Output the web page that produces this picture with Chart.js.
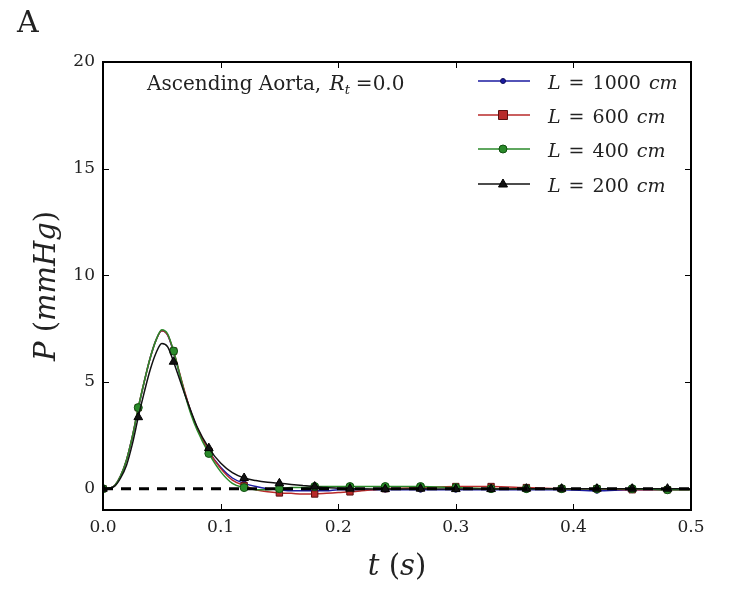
<!DOCTYPE html>
<html><head><meta charset="utf-8">
<script src="https://cdn.jsdelivr.net/npm/chart.js@4/dist/chart.umd.min.js"></script>
<style>html,body{margin:0;padding:0;background:#fff}#wrap{width:734px;height:592px}</style>
</head><body><div id="wrap"><canvas id="c" width="734" height="592"></canvas></div>
<script>
const times = [0,0.005,0.01,0.015,0.02,0.025,0.03,0.035,0.04,0.045,0.05,0.055,0.06,0.065,0.07,0.075,0.08,0.09,0.1,0.11,0.12,0.13,0.14,0.15,0.16,0.17,0.18,0.19,0.2,0.21,0.22,0.24,0.27,0.3,0.33,0.36,0.39,0.42,0.45,0.48,0.5];
const P_L1000 = [0,0.02,0.15,0.6,1.35,2.45,3.75,5.0,6.1,6.95,7.4,7.2,6.4,5.4,4.4,3.55,2.85,1.75,1.0,0.5,0.25,0.1,0.0,-0.05,-0.1,-0.1,-0.1,-0.1,-0.05,-0.05,-0.05,-0.05,-0.05,-0.05,-0.05,-0.05,-0.05,-0.1,-0.05,-0.05,-0.05];
const P_L600 = [0,0.02,0.15,0.6,1.35,2.45,3.8,5.0,6.1,6.95,7.4,7.2,6.45,5.45,4.45,3.55,2.85,1.75,0.95,0.4,0.15,-0.05,-0.15,-0.2,-0.22,-0.25,-0.25,-0.22,-0.18,-0.15,-0.1,0.0,0.05,0.1,0.1,0.05,0.0,0.0,-0.05,-0.05,-0.05];
const P_L400 = [0,0.02,0.15,0.6,1.35,2.45,3.8,5.0,6.1,6.95,7.45,7.25,6.45,5.4,4.35,3.45,2.75,1.65,0.8,0.25,0.05,-0.05,-0.05,0.0,0.05,0.05,0.1,0.1,0.1,0.1,0.1,0.1,0.1,0.05,0.0,0.0,0.0,0.0,0.0,-0.05,-0.05];
const P_L200 = [0,0.02,0.12,0.5,1.1,2.1,3.35,4.5,5.55,6.35,6.8,6.65,5.95,5.15,4.35,3.6,2.9,1.9,1.2,0.75,0.5,0.38,0.3,0.25,0.2,0.15,0.1,0.05,0.02,0.0,0.0,-0.02,0.0,-0.02,-0.02,0.0,0.0,0.0,0.0,0.0,0.0];
const markerTimes = [0,0.03,0.06,0.09,0.12,0.15,0.18,0.21,0.24,0.27,0.3,0.33,0.36,0.39,0.42,0.45,0.48];
const seriesLabels = ['L = 1000 cm','L = 600 cm','L = 400 cm','L = 200 cm'];
const legendNumbers = ['1000','600','400','200'];
const xTickValues = [0,0.1,0.2,0.3,0.4,0.5];
const xTickLabels = ['0.0','0.1','0.2','0.3','0.4','0.5'];
const yTickValues = [0,5,10,15,20];
const yTickLabels = ['0','5','10','15','20'];
const refLine = [0,0];
const refTimes = [0,0.5];

const SERIF = '"DejaVu Serif", "Liberation Serif", serif';
const TXT = '#222';
const styles = [
  {color:'#1a1aa0', edge:'#10105a', style:'circle', r:2.5},
  {color:'#b82a2a', edge:'#5a1010', style:'rect', r:4.5},
  {color:'#2a8a2a', edge:'#105010', style:'circle', r:4},
  {color:'#111111', edge:'#000000', style:'triangle', r:5}
];
const seriesData = [P_L1000, P_L600, P_L400, P_L200];

function isMarker(t){ return markerTimes.some(m => Math.abs(m - t) < 1e-9); }

const datasets = seriesData.map((vals, i) => ({
  label: seriesLabels[i],
  data: times.map((t, j) => ({x: t, y: vals[j]})),
  borderColor: styles[i].color,
  backgroundColor: styles[i].color,
  pointBorderColor: styles[i].edge,
  pointBackgroundColor: styles[i].color,
  pointStyle: styles[i].style,
  pointRadius: ctx => isMarker(times[ctx.dataIndex]) ? styles[i].r : 0,
  pointBorderWidth: 1,
  borderWidth: 1.5,
  cubicInterpolationMode: 'monotone',
  order: 4 - i + 1
}));
datasets.push({
  label: 'zero',
  data: refTimes.map((t, j) => ({x: t, y: refLine[j]})),
  borderColor: '#000',
  borderWidth: 3,
  borderDash: [10, 8],
  pointRadius: 0,
  order: 0
});

function drawParts(ctx, parts, x, y, size) {
  parts.forEach(p => {
    ctx.font = (p[1] ? 'italic ' : '') + size + 'px ' + SERIF;
    ctx.fillText(p[0], x, y);
    x += ctx.measureText(p[0]).width + (p[2] || 0);
  });
  return x;
}
function partsWidth(ctx, parts, size) {
  let w = 0;
  parts.forEach(p => { ctx.font = (p[1] ? 'italic ' : '') + size + 'px ' + SERIF; w += ctx.measureText(p[0]).width + (p[2] || 0); });
  return w;
}

const decor = {
  id: 'decor',
  afterDraw(chart) {
    const ctx = chart.ctx;
    const a = chart.chartArea;
    const xs = chart.scales.x, ys = chart.scales.y;
    ctx.save();
    ctx.strokeStyle = '#000';
    ctx.lineWidth = 2;
    ctx.strokeRect(a.left, a.top, a.right - a.left, a.bottom - a.top);
    ctx.lineWidth = 1;
    const L = 6;
    xTickValues.forEach(v => {
      const px = Math.round(xs.getPixelForValue(v)) + 0.5;
      ctx.beginPath();
      ctx.moveTo(px, a.bottom); ctx.lineTo(px, a.bottom - L);
      ctx.moveTo(px, a.top); ctx.lineTo(px, a.top + L);
      ctx.stroke();
    });
    yTickValues.forEach(v => {
      const py = Math.round(ys.getPixelForValue(v)) + 0.5;
      ctx.beginPath();
      ctx.moveTo(a.left, py); ctx.lineTo(a.left + L, py);
      ctx.moveTo(a.right, py); ctx.lineTo(a.right - L, py);
      ctx.stroke();
    });
    ctx.fillStyle = TXT;
    ctx.textBaseline = 'alphabetic';
    ctx.textAlign = 'left';
    // panel letter
    ctx.font = '30px ' + SERIF;
    ctx.fillText('A', 17, 32);
    // annotation
    let x = 147, y = 90;
    ctx.font = '20px ' + SERIF;
    ctx.fillText('Ascending Aorta, ', x, y);
    x += ctx.measureText('Ascending Aorta, ').width + 2;
    ctx.font = 'italic 20px ' + SERIF;
    ctx.fillText('R', x, y);
    x += ctx.measureText('R').width;
    ctx.font = 'italic 13px ' + SERIF;
    ctx.fillText('t', x, y + 4);
    x += ctx.measureText('t').width + 6;
    ctx.font = '20px ' + SERIF;
    ctx.fillText('=0.0', x, y);
    // legend
    const rows = [81, 115, 149, 184];
    rows.forEach((ry, i) => {
      const s = styles[i];
      ctx.strokeStyle = s.color;
      ctx.lineWidth = 1.5;
      ctx.beginPath(); ctx.moveTo(478, ry); ctx.lineTo(530, ry); ctx.stroke();
      ctx.fillStyle = s.color; ctx.strokeStyle = s.edge; ctx.lineWidth = 1;
      const mx = 503;
      ctx.beginPath();
      if (s.style === 'circle') { ctx.arc(mx, ry, s.r, 0, Math.PI * 2); }
      else if (s.style === 'rect') { ctx.rect(mx - s.r, ry - s.r, 2 * s.r, 2 * s.r); }
      else { ctx.moveTo(mx, ry - s.r); ctx.lineTo(mx + s.r * 0.9, ry + s.r * 0.6); ctx.lineTo(mx - s.r * 0.9, ry + s.r * 0.6); ctx.closePath(); }
      ctx.fill(); ctx.stroke();
      ctx.fillStyle = TXT;
      drawParts(ctx, [['L', true, 8], ['=', false, 8], [legendNumbers[i], false, 8], ['cm', true, 0]], 548, ry + 8, 19);
    });
    // x title: t (s)
    const xp = [['t', true, 0], [' (', false, 0], ['s', true, 0], [')', false, 0]];
    let w = partsWidth(ctx, xp, 29);
    drawParts(ctx, xp, 397 - w / 2, 575, 29);
    // y title: P (mmHg)
    const yp = [['P', true, 0], [' (', false, 0], ['mmHg', true, 0], [')', false, 0]];
    w = partsWidth(ctx, yp, 29);
    ctx.translate(55, 286);
    ctx.rotate(-Math.PI / 2);
    drawParts(ctx, yp, -w / 2, 0, 29);
    ctx.restore();
  }
};

new Chart(document.getElementById('c'), {
  type: 'line',
  data: { datasets },
  options: {
    responsive: false,
    animation: false,
    layout: { padding: { left: 0, top: 62, right: 43, bottom: 0 } },
    plugins: { legend: { display: false }, tooltip: { enabled: false }, title: { display: false } },
    scales: {
      x: {
        type: 'linear', min: 0, max: 0.5,
        grid: { display: false, drawTicks: false }, border: { display: false },
        afterBuildTicks: s => { s.ticks = xTickValues.map(v => ({value: v})); },
        afterFit: s => { s.height = 82; },
        ticks: { font: { family: SERIF, size: 17 }, color: TXT, padding: 7,
          callback: (v) => xTickLabels[xTickValues.findIndex(t => Math.abs(t - v) < 1e-9)] }
      },
      y: {
        type: 'linear', min: -1, max: 20,
        grid: { display: false, drawTicks: false }, border: { display: false },
        afterBuildTicks: s => { s.ticks = yTickValues.map(v => ({value: v})); },
        afterFit: s => { s.width = 103; },
        ticks: { font: { family: SERIF, size: 17 }, color: TXT, padding: 8,
          callback: (v) => yTickLabels[yTickValues.indexOf(v)] }
      }
    }
  },
  plugins: [decor]
});
</script>
</body></html>
